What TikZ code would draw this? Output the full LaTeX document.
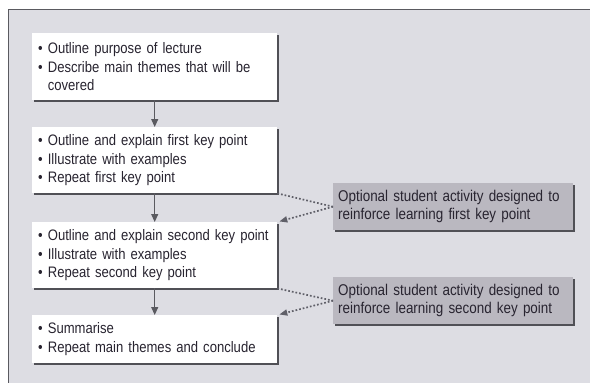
\documentclass[tikz,border=0pt]{standalone}
\usepackage{fontspec}
\setmainfont[FakeStretch=0.86]{Liberation Sans}
\usetikzlibrary{arrows.meta,shadows}
\definecolor{bgc}{RGB}{221,221,227}
\definecolor{framec}{RGB}{90,90,96}
\definecolor{shadc}{RGB}{80,80,86}
\definecolor{actc}{RGB}{186,184,192}
\definecolor{txtc}{RGB}{40,36,48}
\definecolor{dotc}{RGB}{95,95,104}
\tikzset{
  mainbox/.style={rectangle, fill=white, anchor=north west, minimum width=245pt,
    inner xsep=6pt, text width=233pt, align=left, text=txtc,
    font=\fontsize{15.2}{18.5}\selectfont,
    drop shadow={shadow xshift=2pt, shadow yshift=-2pt, fill=shadc, opacity=1}},
  actbox/.style={rectangle, fill=actc, anchor=north west, minimum width=240pt,
    minimum height=47pt, inner xsep=5pt, text width=230pt, align=left, text=txtc,
    font=\fontsize{15.6}{18}\selectfont,
    drop shadow={shadow xshift=2pt, shadow yshift=-2pt, fill=shadc, opacity=1}},
  flow/.style={draw=framec, line width=1.1pt, -{Triangle[length=8pt,width=7pt]}},
  dotline/.style={draw=dotc, line width=1.7pt, dash pattern=on 1.7pt off 2pt},
  dotarrow/.style={dotline, -{Triangle[length=8pt,width=6pt]}, shorten >=2pt},
}
\begin{document}
\begin{tikzpicture}[x=1pt,y=-1pt]
\useasboundingbox (0,0) rectangle (590,383);
\fill[bgc] (8,9) rectangle (590,383);
\draw[framec, line width=1pt] (8,383) -- (8,9) -- (590,9);

\node[mainbox, minimum height=67pt] (b1) at (32,33)
  {\textbullet\ Outline purpose of lecture\\
   \textbullet\ Describe main themes that will be\\
   \hphantom{\textbullet\ }covered};
\node[mainbox, minimum height=66pt] (b2) at (32,127)
  {\textbullet\ Outline and explain first key point\\
   \textbullet\ Illustrate with examples\\
   \textbullet\ Repeat first key point};
\node[mainbox, minimum height=66pt] (b3) at (32,222)
  {\textbullet\ Outline and explain second key point\\
   \textbullet\ Illustrate with examples\\
   \textbullet\ Repeat second key point};
\node[mainbox, minimum height=48pt] (b4) at (32,315)
  {\textbullet\ Summarise\\
   \textbullet\ Repeat main themes and conclude};

\node[actbox] (a1) at (333,183)
  {Optional student activity designed to\\reinforce learning first key point};
\node[actbox] (a2) at (333,277)
  {Optional student activity designed to\\reinforce learning second key point};

\draw[flow] (b1.south) -- (b2.north);
\draw[flow] (b2.south) -- (b3.north);
\draw[flow] (b3.south) -- (b4.north);

\draw[dotline] (b2.south east) -- (a1.west);
\draw[dotarrow] (a1.west) -- (b3.north east);
\draw[dotline] (b3.south east) -- (a2.west);
\draw[dotarrow] (a2.west) -- (b4.north east);
\end{tikzpicture}
\end{document}
